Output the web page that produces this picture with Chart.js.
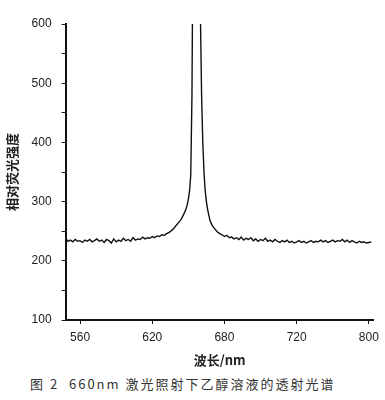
<!DOCTYPE html>
<html>
<head>
<meta charset="utf-8">
<script src="https://cdn.jsdelivr.net/npm/chart.js@4"></script>
<style>
  html, body { margin: 0; padding: 0; background: #fff; }
  #wrap { position: relative; width: 385px; height: 400px; }
  #caption {
    position: absolute; left: 30px; top: 374px;
    font: 13px "Noto Sans CJK SC", sans-serif; color: #333; white-space: pre;
    letter-spacing: 2px;
  }
</style>
</head>
<body>
<div id="wrap">
  <canvas id="chart" width="385" height="368"></canvas>
  <div id="caption">图 2  660nm 激光照射下乙醇溶液的透射光谱</div>
</div>
<script>
// 波长 (nm) 与相对荧光强度
let wavelengths = [
  548, 550, 552, 554, 556, 558, 560, 562, 564, 566, 568, 570, 572, 574, 576, 578,
  580, 582, 584, 586, 588, 590, 592, 594, 596, 598, 600, 602, 604, 606, 608, 610,
  612, 614, 616, 618, 620, 622, 624, 626, 628, 630, 632, 634, 636, 638, 640, 642,
  644, 646, 648, 649, 650, 651, 652, 653, 654, 655, 656, 657, 658, 659, 660, 661,
  662, 663, 664, 665, 666, 667, 668, 670, 672, 674, 676, 678, 680, 682, 684, 686,
  688, 690, 692, 694, 696, 698, 700, 702, 704, 706, 708, 710, 712, 714, 716, 718,
  720, 722, 724, 726, 728, 730, 732, 734, 736, 738, 740, 742, 744, 746, 748, 750,
  752, 754, 756, 758, 760, 762, 764, 766, 768, 770, 772, 774, 776, 778, 780, 782,
  784, 786, 788, 790, 792, 794, 796, 798, 800, 802
];
let intensity = [
  238, 233, 235, 232, 236, 233, 234, 231, 235, 233, 236, 232, 234, 237, 233, 235,
  231, 236, 234, 230, 237, 232, 235, 233, 238, 234, 236, 233, 239, 235, 237, 236,
  240, 237, 239, 238, 241, 239, 242, 241, 244, 243, 246, 248, 251, 255, 260, 265,
  270, 278, 287, 294, 304, 318, 345, 480, 800, 1800, 3500, 3500, 1800, 900, 620, 480,
  400, 350, 318, 300, 287, 277, 268, 259, 254, 249, 246, 244, 241, 243, 239, 240,
  237, 239, 236, 240, 235, 238, 236, 239, 234, 237, 233, 236, 234, 238, 233, 235,
  232, 236, 233, 231, 234, 232, 235, 231, 233, 230, 232, 234, 231, 233, 230, 232,
  234, 231, 233, 232, 235, 232, 234, 231, 233, 235, 232, 234, 233, 236, 232, 235,
  231, 234, 232, 230, 233, 231, 232, 230, 231, 232
];

// 坐标轴刻度
let xTickValues = [560, 620, 680, 740, 800];
let xTickLabels = ['560', '620', '680', '720', '800'];
let yMin = 100;
let yMax = 600;

let points = wavelengths.map((w, i) => ({ x: w, y: intensity[i] }));

let ctx = document.getElementById('chart').getContext('2d');
let chart = new Chart(ctx, {
  type: 'line',
  data: {
    datasets: [{
      data: points,
      borderColor: '#111',
      borderWidth: 1.4,
      pointRadius: 0,
      fill: false,
      tension: 0
    }]
  },
  options: {
    responsive: false,
    animation: false,
    layout: { padding: { top: 24, right: 10, left: 4, bottom: 0 } },
    plugins: { legend: { display: false }, tooltip: { enabled: false } },
    scales: {
      x: {
        type: 'linear',
        min: 548,
        max: 804,
        afterBuildTicks: (axis) => { axis.ticks = xTickValues.map(v => ({ value: v })); },
        ticks: {
          callback: (v, i) => xTickLabels[i],
          color: '#222',
          font: { family: 'Liberation Sans', size: 12 },
          padding: 6,
          maxRotation: 0
        },
        grid: { drawOnChartArea: false, tickLength: 4, color: '#111' },
        border: { display: true, color: '#111', width: 2 },
        title: {
          display: true,
          text: '波长/nm',
          color: '#222',
          font: { family: 'Noto Sans CJK SC', size: 13, weight: 'bold' },
          padding: { top: 2, bottom: 0 }
        }
      },
      y: {
        min: yMin,
        max: yMax,
        ticks: {
          stepSize: 50,
          callback: (v) => (v % 100 === 0 ? v : ''),
          color: '#222',
          font: { family: 'Liberation Sans', size: 12 },
          padding: 10
        },
        grid: { drawOnChartArea: false, tickLength: 4, color: '#111' },
        border: { display: true, color: '#111', width: 2 },
        title: {
          display: true,
          text: '相对荧光强度',
          color: '#222',
          font: { family: 'Noto Sans CJK SC', size: 13, weight: 'bold' },
          padding: { top: 0, bottom: 2 }
        }
      }
    }
  }
});
</script>
</body>
</html>
